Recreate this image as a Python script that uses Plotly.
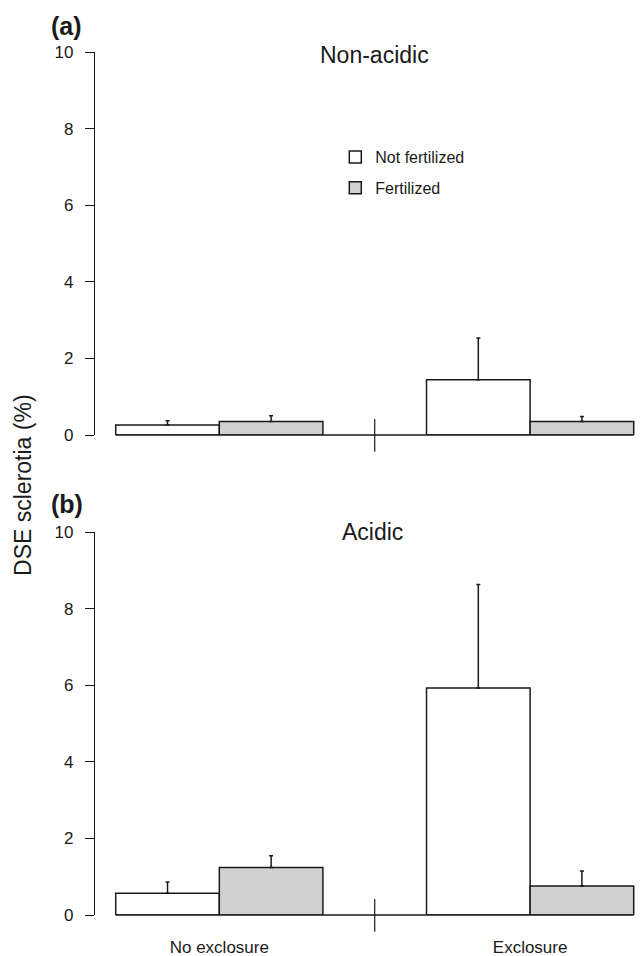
import plotly.graph_objects as go

groups = ["No exclosure", "Exclosure"]
series_names = ["Not fertilized", "Fertilized"]

nonacidic_notfert = [0.26, 1.44]
nonacidic_notfert_err = [0.11, 1.09]
nonacidic_fert = [0.35, 0.35]
nonacidic_fert_err = [0.15, 0.13]

acidic_notfert = [0.57, 5.93]
acidic_notfert_err = [0.29, 2.70]
acidic_fert = [1.24, 0.76]
acidic_fert_err = [0.31, 0.39]

y_ticks = [0, 2, 4, 6, 8, 10]

FONT = "Liberation Sans, Arial, sans-serif"
DARK = "#1a1a1a"
GRAY = "#d0d1d0"

fig = go.Figure()

def add_bar(name, vals, errs, color, xa, ya, show):
    fig.add_trace(go.Bar(
        x=groups, y=vals, name=name, legendgroup=name, showlegend=show,
        marker=dict(color=color, line=dict(color=DARK, width=1.5)),
        error_y=dict(type="data", array=errs, arrayminus=[0] * len(errs), symmetric=False,
                     color=DARK, thickness=1.5, width=2),
        xaxis=xa, yaxis=ya,
    ))

add_bar(series_names[0], nonacidic_notfert, nonacidic_notfert_err, "white", "x", "y", True)
add_bar(series_names[1], nonacidic_fert, nonacidic_fert_err, GRAY, "x", "y", True)
add_bar(series_names[0], acidic_notfert, acidic_notfert_err, "white", "x2", "y2", False)
add_bar(series_names[1], acidic_fert, acidic_fert_err, GRAY, "x2", "y2", False)

xrange = [-0.400, 1.3375]
xcommon = dict(range=xrange, showline=False, showgrid=False, zeroline=False, ticks="",
               type="category")
ycommon = dict(range=[0, 10], tickvals=y_ticks, showline=True, linecolor=DARK, linewidth=1.3,
               ticks="outside", ticklen=9, tickwidth=1.3, tickcolor=DARK,
               showgrid=False, zeroline=False, ticklabelstandoff=8,
               tickfont=dict(family=FONT, size=17, color=DARK))

fig.update_layout(
    width=627, height=948, autosize=False,
    margin=dict(l=87, r=0, t=44, b=41),
    paper_bgcolor="white", plot_bgcolor="white",
    template="none",
    barmode="group", bargap=1/3, bargroupgap=0,
    font=dict(family=FONT, color=DARK),
    xaxis=dict(**xcommon, anchor="y", domain=[0, 1], showticklabels=False),
    yaxis=dict(**ycommon, anchor="x", domain=[0.5562, 1]),
    xaxis2=dict(**xcommon, anchor="y2", domain=[0, 1], showticklabels=True,
                tickfont=dict(family=FONT, size=17, color=DARK), ticklabelstandoff=20),
    yaxis2=dict(**ycommon, anchor="x2", domain=[0, 0.4438]),
    legend=dict(x=0.445, y=0.898, xanchor="left", yanchor="top", traceorder="grouped",
                tracegroupgap=7, bgcolor="rgba(0,0,0,0)",
                font=dict(family=FONT, size=16, color=DARK)),
    showlegend=True,
)

# baselines and group dividers
for xr, yr in [("x", "y"), ("x2", "y2")]:
    fig.add_shape(type="line", xref=xr, yref=yr + " domain", x0=-1/3, x1=4/3, y0=0, y1=0,
                  line=dict(color=DARK, width=1.5))
    fig.add_shape(type="line", xref=xr, yref=yr + " domain", x0=0.5, x1=0.5, y0=-0.044, y1=0.042,
                  line=dict(color=DARK, width=1.2))

# titles and panel labels
fig.add_annotation(text="Non-acidic", xref="paper", yref="paper", x=0.517, y=0.996,
                   xanchor="center", yanchor="middle", showarrow=False,
                   font=dict(family=FONT, size=23, color=DARK))
fig.add_annotation(text="Acidic", xref="paper", yref="paper", x=0.513, y=0.4438,
                   xanchor="center", yanchor="middle", showarrow=False,
                   font=dict(family=FONT, size=23, color=DARK))
fig.add_annotation(text="<b>(a)</b>", xref="paper", yref="paper", x=-0.053, y=1.0296,
                   xanchor="center", yanchor="middle", showarrow=False,
                   font=dict(family=FONT, size=25, color=DARK))
fig.add_annotation(text="<b>(b)</b>", xref="paper", yref="paper", x=-0.052, y=0.4762,
                   xanchor="center", yanchor="middle", showarrow=False,
                   font=dict(family=FONT, size=25, color=DARK))
fig.add_annotation(text="DSE sclerotia (%)", xref="paper", yref="paper", x=-0.132, y=0.498,
                   xanchor="center", yanchor="middle", showarrow=False, textangle=-90,
                   font=dict(family=FONT, size=23, color=DARK))

fig.write_html("out.html")
